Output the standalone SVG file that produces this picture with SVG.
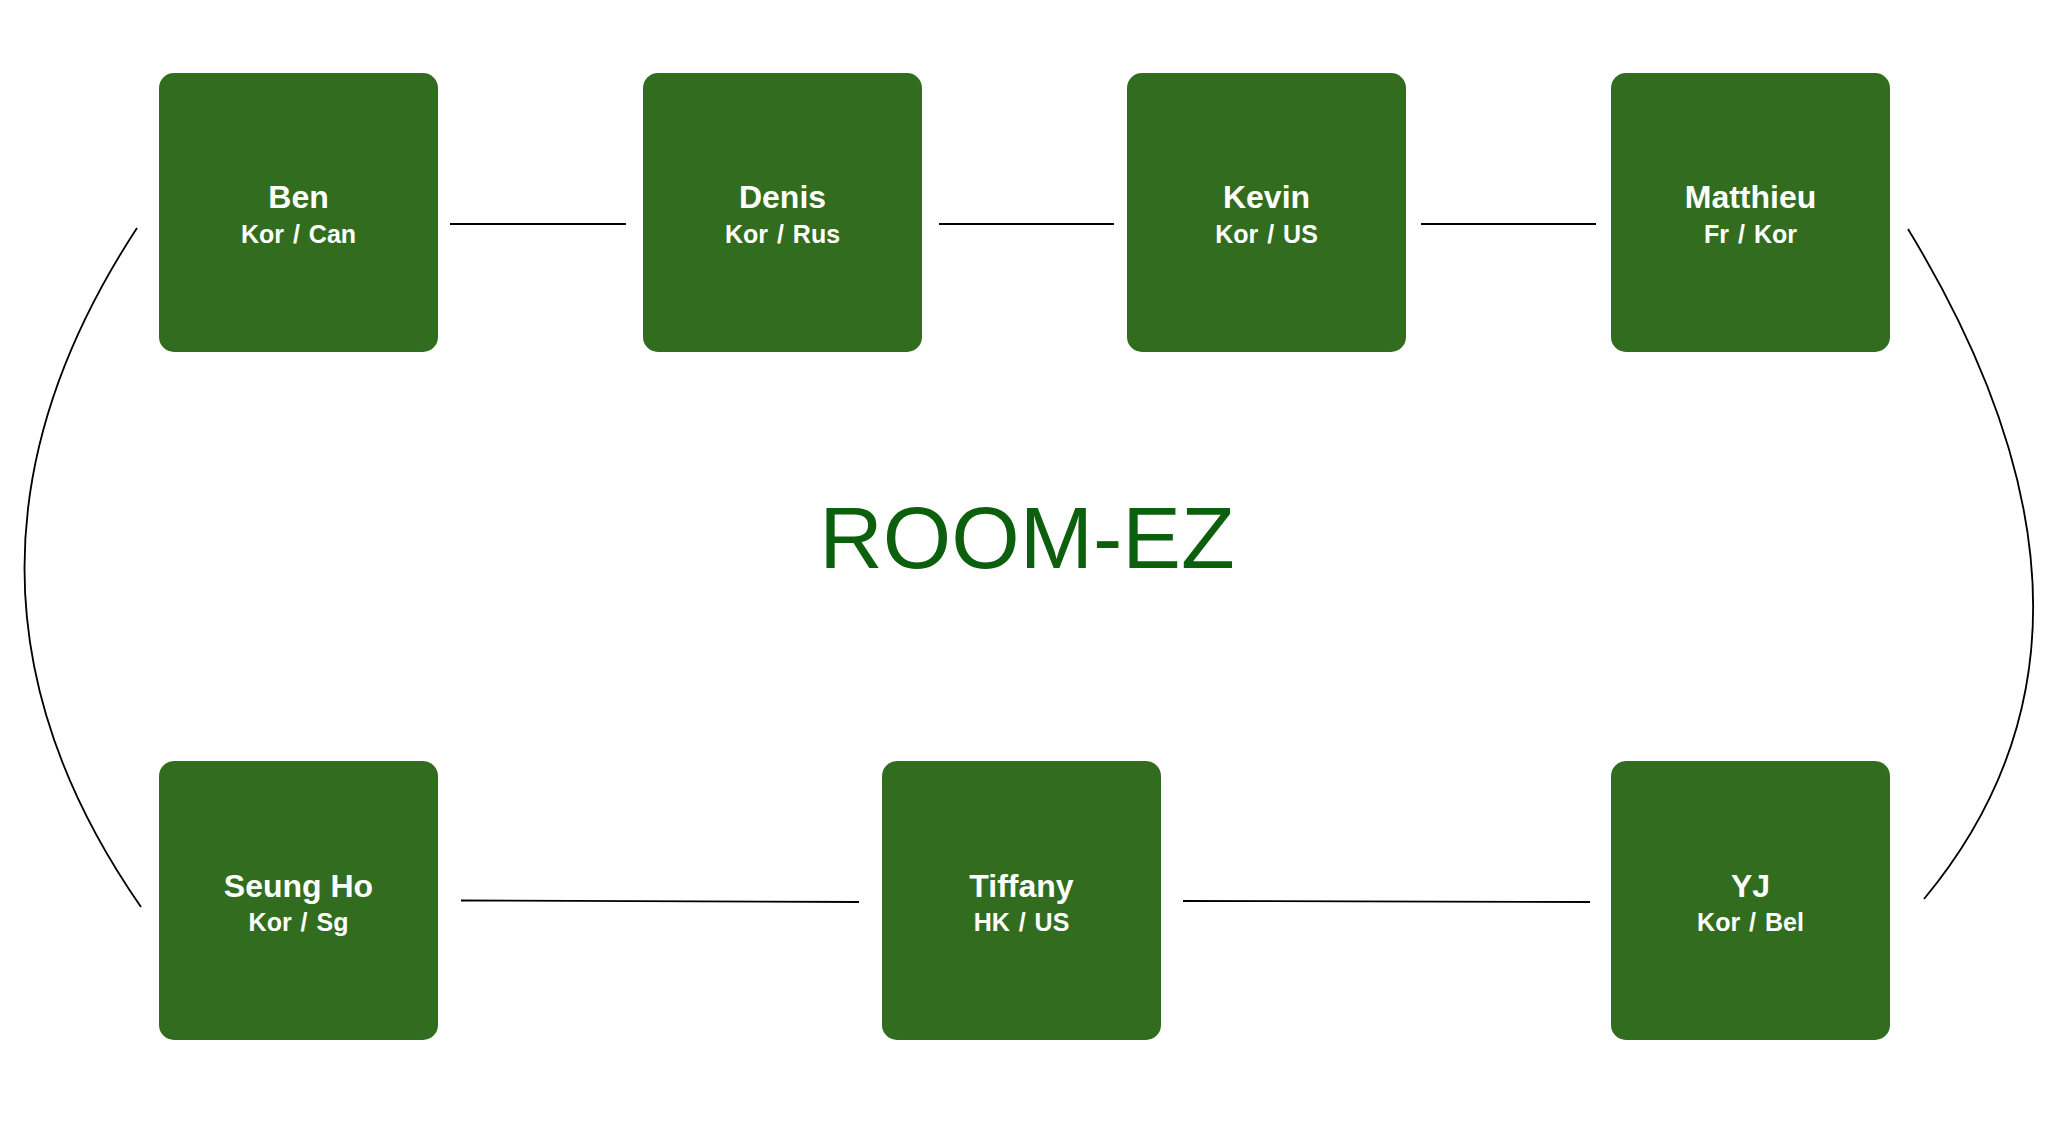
<svg xmlns="http://www.w3.org/2000/svg" width="2050" height="1144" viewBox="0 0 2050 1144">
<style>
.box{fill:#326d1f}
.name{font-family:"Liberation Sans",Arial,sans-serif;font-weight:bold;font-size:32px;fill:#ffffff;text-anchor:middle}
.sub{font-family:"Liberation Sans",Arial,sans-serif;font-weight:bold;font-size:25px;fill:#ffffff;text-anchor:middle;word-spacing:2px}
.title{font-family:"Liberation Sans",Arial,sans-serif;font-size:88px;fill:#0c5f0c;text-anchor:middle}
.conn{fill:none;stroke:#000000;stroke-width:1.8}
</style>
<rect width="2050" height="1144" fill="#ffffff"/>
<g id="connectors">
<line class="conn" x1="450" y1="224" x2="626" y2="224"/>
<line class="conn" x1="939" y1="224" x2="1114" y2="224"/>
<line class="conn" x1="1421" y1="224" x2="1596" y2="224"/>
<line class="conn" x1="461" y1="900.5" x2="859" y2="902"/>
<line class="conn" x1="1183" y1="901" x2="1590" y2="902"/>
<path class="conn" d="M137 228 Q-90 574.5 141 907"/>
<path class="conn" d="M1908 229 Q2150 627 1924 899"/>
</g>
<g id="node-ben">
<rect class="box" x="159" y="73" width="279" height="279" rx="15"/>
<text class="name" x="298.5" y="208">Ben</text>
<text class="sub" x="298.5" y="242.5">Kor / Can</text>
</g>
<g id="node-denis">
<rect class="box" x="643" y="73" width="279" height="279" rx="15"/>
<text class="name" x="782.5" y="208">Denis</text>
<text class="sub" x="782.5" y="242.5">Kor / Rus</text>
</g>
<g id="node-kevin">
<rect class="box" x="1127" y="73" width="279" height="279" rx="15"/>
<text class="name" x="1266.5" y="208">Kevin</text>
<text class="sub" x="1266.5" y="242.5">Kor / US</text>
</g>
<g id="node-matthieu">
<rect class="box" x="1611" y="73" width="279" height="279" rx="15"/>
<text class="name" x="1750.5" y="208">Matthieu</text>
<text class="sub" x="1750.5" y="242.5">Fr / Kor</text>
</g>
<g id="node-seungho">
<rect class="box" x="159" y="761" width="279" height="279" rx="15"/>
<text class="name" x="298.5" y="896.5">Seung Ho</text>
<text class="sub" x="298.5" y="930.5">Kor / Sg</text>
</g>
<g id="node-tiffany">
<rect class="box" x="882" y="761" width="279" height="279" rx="15"/>
<text class="name" x="1021.5" y="896.5">Tiffany</text>
<text class="sub" x="1021.5" y="930.5">HK / US</text>
</g>
<g id="node-yj">
<rect class="box" x="1611" y="761" width="279" height="279" rx="15"/>
<text class="name" x="1750.5" y="896.5">YJ</text>
<text class="sub" x="1750.5" y="930.5">Kor / Bel</text>
</g>
<g id="title">
<text class="title" x="1027" y="568">ROOM-EZ</text>
</g>
</svg>
